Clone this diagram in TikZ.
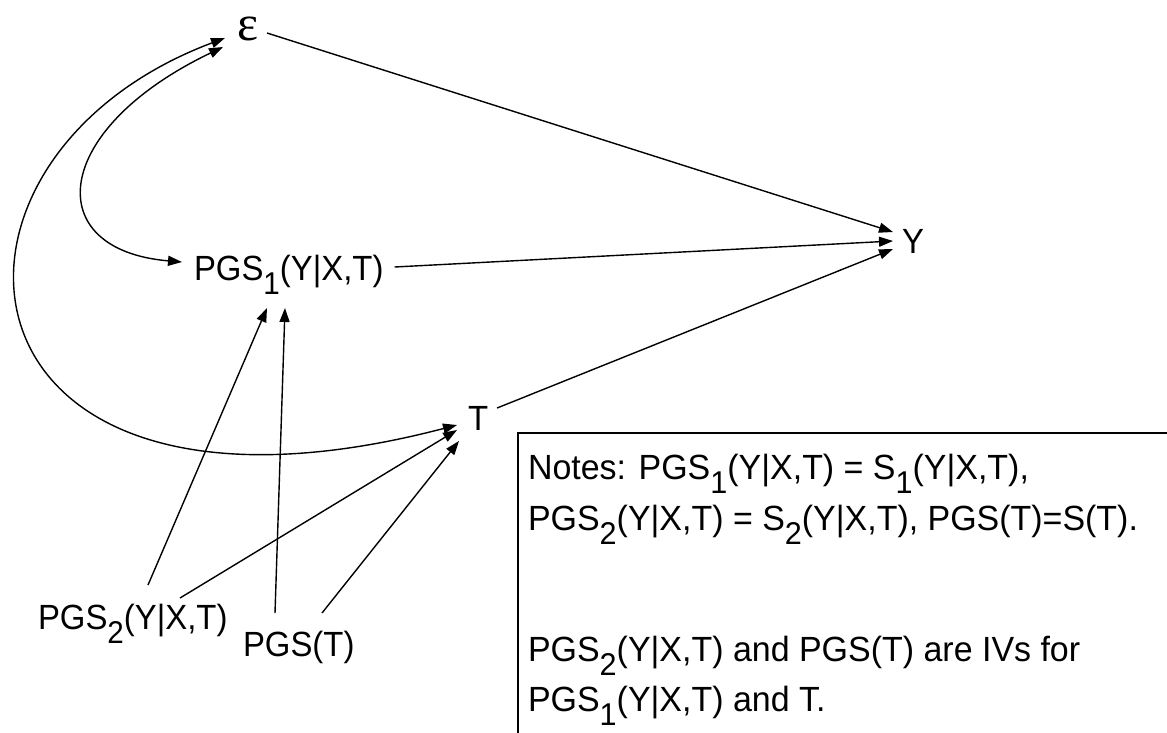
\documentclass[tikz,border=0pt]{standalone}
\usepackage{fontspec}
\setmainfont{Liberation Sans}
\newfontfamily\serifgr{Liberation Serif}
\usetikzlibrary{arrows.meta}
\newcommand\sbn[1]{\raisebox{-0.4em}{\scalebox{0.9}{#1}}}
\newcommand\lab[1]{\scalebox{0.94}[1]{#1}}
\newcommand\nlab[1]{\scalebox{0.97}[1]{#1}}
\begin{document}
\begin{tikzpicture}[x=1pt,y=-1pt,
  lbl/.style={inner sep=0pt, outer sep=0pt, anchor=base west, font=\fontsize{35}{42}\selectfont},
  arr/.style={line width=1.4pt, -{Triangle[length=14pt,width=10pt]}},
  both/.style={line width=1.4pt, {Triangle[length=14pt,width=10pt]}-{Triangle[length=14pt,width=10pt]}},
  boxline/.style={line width=1.4pt}]
\useasboundingbox (0,0) rectangle (1167,732);
% nodes
\node[lbl] (eps) at (237,40) {\serifgr\fontsize{50}{50}\selectfont ε};
\node[lbl] (Y) at (902,253) {\lab{Y}};
\node[lbl] (pgs1) at (194,280) {\lab{PGS\sbn{1}(Y|X,T)}};
\node[lbl] (T) at (468,430) {\lab{T}};
\node[lbl] (pgs2) at (38,629) {\lab{PGS\sbn{2}(Y|X,T)}};
\node[lbl] (pgst) at (243,656) {\lab{PGS(T)}};
% straight connectors
\draw[arr] ([shift={(30,-7)}]eps.base west) -- ([shift={(-9,-21)}]Y.base west);
\draw[arr] ([shift={(11,-13)}]pgs1.base east) -- ([shift={(-9,-12)}]Y.base west);
\draw[arr] ([shift={(9,-22)}]T.base east) -- ([shift={(-9,-4)}]Y.base west);
\draw[arr] ([shift={(110,-44)}]pgs2.base west) -- ([shift={(73,28)}]pgs1.base west);
\draw[arr] ([shift={(32,-43)}]pgst.base west) -- ([shift={(91,28)}]pgs1.base west);
\draw[arr] ([shift={(142,-31)}]pgs2.base west) -- ([shift={(-11,0)}]T.base west);
\draw[arr] ([shift={(79,-43)}]pgst.base west) -- ([shift={(-9,11)}]T.base west);
% curved bidirected connectors
\draw[both] ([shift={(-14,7)}]eps.base west) .. controls (50,130) and (40,250) .. ([shift={(-12,-18)}]pgs1.base west);
\draw[both] ([shift={(-12,-2)}]eps.base west) .. controls (-100,160) and (-60,560) .. ([shift={(-11,-5)}]T.base west);
% notes box
\draw[boxline] (518,745) -- (518,433) -- (1180,433);
\node[lbl] (n1) at (528,479) {\nlab{Notes: PGS\sbn{1}(Y|X,T) = S\sbn{1}(Y|X,T),}};
\node[lbl] (n2) at (528,530) {\nlab{PGS\sbn{2}(Y|X,T) = S\sbn{2}(Y|X,T), PGS(T)=S(T).}};
\node[lbl] (n3) at (528,661) {\nlab{PGS\sbn{2}(Y|X,T) and PGS(T) are IVs for}};
\node[lbl] (n4) at (528,711) {\nlab{PGS\sbn{1}(Y|X,T) and T.}};
\end{tikzpicture}
\end{document}
